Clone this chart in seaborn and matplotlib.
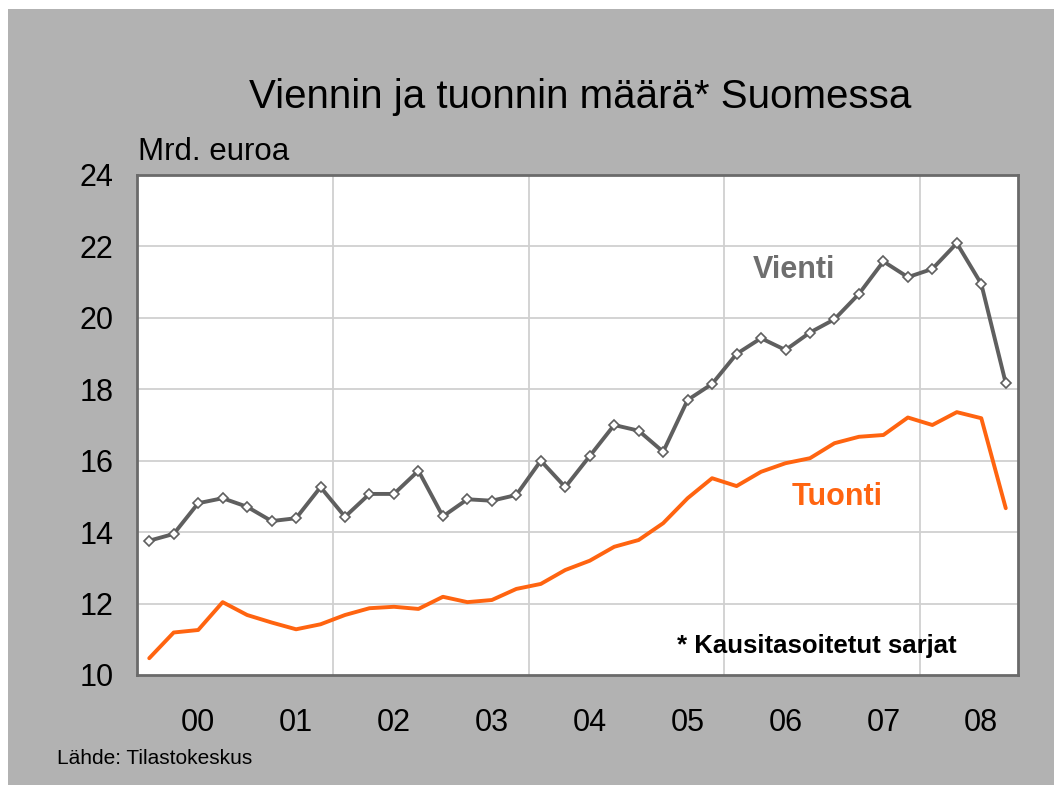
import pandas as pd
import numpy as np
import matplotlib.pyplot as plt
from matplotlib.patches import Rectangle
import seaborn as sns

# Neljännesvuosittaiset arvot 2000Q1 - 2008Q4, mrd. euroa (kausitasoitettu)
quarters = [f"{y}Q{q}" for y in range(2000, 2009) for q in range(1, 5)]
vienti = [13.76, 13.95, 14.81, 14.95, 14.71, 14.31, 14.39, 15.26,
          14.43, 15.07, 15.07, 15.72, 14.44, 14.92, 14.88, 15.04,
          16.00, 15.26, 16.13, 17.00, 16.84, 16.25, 17.70, 18.15,
          18.99, 19.43, 19.10, 19.59, 19.96, 20.67, 21.58, 21.14,
          21.37, 22.09, 20.95, 18.17]
tuonti = [10.47, 11.19, 11.26, 12.04, 11.68, 11.47, 11.28, 11.42,
          11.68, 11.87, 11.91, 11.85, 12.19, 12.04, 12.10, 12.41,
          12.55, 12.94, 13.20, 13.59, 13.78, 14.25, 14.95, 15.51,
          15.29, 15.69, 15.93, 16.07, 16.49, 16.67, 16.72, 17.21,
          17.00, 17.36, 17.19, 14.67]
year_labels = ["00", "01", "02", "03", "04", "05", "06", "07", "08"]
y_ticks = [10, 12, 14, 16, 18, 20, 22, 24]

df = pd.DataFrame({"idx": np.arange(len(quarters)), "quarter": quarters,
                   "Vienti": vienti, "Tuonti": tuonti})

sns.set_style("white")
plt.rcParams['font.family'] = ['Liberation Sans', 'DejaVu Sans']

gray_bg = '#b2b2b2'
line_gray = '#5f5f5f'
orange = '#ff6410'

fig = plt.figure(figsize=(10.54, 7.85), dpi=100)
fig.patch.set_facecolor('white')
# harmaa tausta (valkoinen reunus ylhäällä ja vasemmalla)
bg = Rectangle((8 / 1054, 0), 1, 1 - 9 / 785, transform=fig.transFigure,
               facecolor=gray_bg, edgecolor='none', zorder=-10)
fig.add_artist(bg)

ax = fig.add_axes([137 / 1054, 110 / 785, 881 / 1054, 500 / 785])
ax.set_zorder(1)
ax.set_facecolor('white')

sns.lineplot(data=df, x="idx", y="Tuonti", ax=ax, color=orange, linewidth=2.8, zorder=3)
sns.lineplot(data=df, x="idx", y="Vienti", ax=ax, color=line_gray, linewidth=2.8,
             marker='D', markersize=5, markerfacecolor='white',
             markeredgecolor=line_gray, markeredgewidth=1.2, zorder=4)

ax.set_xlim(-0.5, len(quarters) - 0.5)
ax.set_ylim(10, 24)
ax.set_yticks(y_ticks)
ax.set_yticklabels([str(v) for v in y_ticks])
ax.set_xticks(np.arange(2, len(quarters), 4))
ax.set_xticklabels(year_labels)
ax.tick_params(axis='both', length=0, labelsize=22, colors='black')
ax.tick_params(axis='y', pad=17)
ax.tick_params(axis='x', pad=24)
ax.set_xlabel("")
ax.set_ylabel("")

# ruudukko: vaakaviivat joka tickille, pystyviivat vuodenvaihteissa 2 v välein
for v in y_ticks[1:-1]:
    ax.axhline(v, color='#d0d0d0', linewidth=1.3, zorder=1)
for xv in [7.5, 15.5, 23.5, 31.5]:
    ax.axvline(xv, color='#d0d0d0', linewidth=1.3, zorder=1)

for side in ['left', 'right', 'top', 'bottom']:
    ax.spines[side].set_visible(True)
    ax.spines[side].set_color('#6a6a6a')
    ax.spines[side].set_linewidth(2)

ax.text(26.36, 21.34, "Vienti", color='#6e6e6e', fontsize=22, fontweight='bold',
        ha='center', va='center')
ax.text(28.1, 14.98, "Tuonti", color=orange, fontsize=22, fontweight='bold',
        ha='center', va='center')
ax.text(27.27, 10.81, "* Kausitasoitetut sarjat", color='black', fontsize=18.5,
        fontweight='bold', ha='center', va='center')

fig.text(580 / 1054, 1 - 97 / 785, "Viennin ja tuonnin määrä* Suomessa",
         fontsize=29, ha='center', va='center', color='black')
fig.text(138 / 1054, 1 - 152 / 785, "Mrd. euroa", fontsize=22.5, ha='left',
         va='center', color='black')
fig.text(57 / 1054, 1 - 758 / 785, "Lähde: Tilastokeskus", fontsize=15,
         ha='left', va='center', color='black')

fig.savefig("out.png", dpi=100, facecolor=fig.get_facecolor())
